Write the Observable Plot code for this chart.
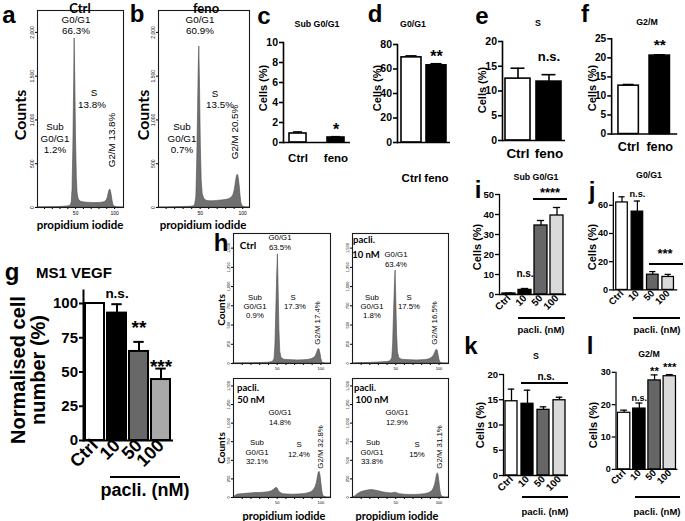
<!DOCTYPE html>
<html><head><meta charset="utf-8">
<script src="https://cdn.jsdelivr.net/npm/d3@7"></script>
<script src="https://cdn.jsdelivr.net/npm/@observablehq/plot@0.6"></script>
<style>
html,body{margin:0;padding:0;background:#fff;}
#fig{position:relative;width:685px;height:521px;overflow:hidden;background:#fff;font-family:"Liberation Sans",Arial,sans-serif;color:#000;}
.t{position:absolute;white-space:nowrap;line-height:1;transform:translate(-50%,-50%);}
.ln{position:absolute;background:#000;}
.p{position:absolute;line-height:0;}
.p svg{overflow:visible;}
</style></head><body><div id="fig"></div>
<script>
// ================= DATA =================
// Fenofibrate experiment (panels c-f)
const fenoGroups = ["Ctrl", "feno"];
const fenoColors = ["#ffffff", "#000000"];
const fenoSubG1 = [0.9, 0.5];     const fenoSubG1Err = [0.15, 0.08]; const fenoSubG1Sig = ["", "*"];
const fenoG1 = [69.5, 63.0];      const fenoG1Err = [1.2, 1.3];       const fenoG1Sig = ["", "**"];
const fenoS = [12.5, 11.9];       const fenoSErr = [2.1, 1.4];        const fenoSSig = ["", "n.s."];
const fenoG2M = [12.7, 20.6];     const fenoG2MErr = [0.3, 0.2];      const fenoG2MSig = ["", "**"];
const fenoSubG1Ticks = [0, 2, 4, 6, 8, 10];
const fenoG1Ticks = [0, 20, 40, 60, 80];
const fenoSTicks = [0, 5, 10, 15, 20];
const fenoG2MTicks = [0, 5, 10, 15, 20, 25];

// Paclitaxel experiment (panels g, i-l)
const pacliGroups = ["Ctrl", "10", "50", "100"];
const pacliColors = ["#ffffff", "#000000", "#666666", "#dadada"];
const cellColors = ["#ffffff", "#000000", "#686868", "#a9a9a9"];
const cellNumber = [100, 93, 65, 44.5];     const cellNumberErr = [0, 6.5, 7, 8];     const cellNumberSig = ["", "n.s.", "**", "***"];
const pacliSubG1 = [0.5, 2.3, 34.5, 39.5];  const pacliSubG1Err = [0.2, 0.7, 2.5, 4]; const pacliSubG1Sig = ["", "n.s.", "", ""];
const pacliG1 = [62, 55.5, 10.8, 9.2];      const pacliG1Err = [4, 7.5, 2.2, 1.8];   const pacliG1Sig = ["", "n.s.", "", ""];
const pacliS = [14.7, 14.2, 13.0, 14.9];    const pacliSErr = [2.4, 2.7, 0.6, 0.6];  const pacliSSig = ["", "", "", ""];
const pacliG2M = [17.5, 18.8, 27.5, 28.8];  const pacliG2MErr = [0.8, 1.7, 1.7, 0.5]; const pacliG2MSig = ["", "n.s.", "**", "***"];
const cellNumberTicks = [0, 25, 50, 75, 100];
const pacliSubG1Ticks = [0, 10, 20, 30, 40, 50];
const pacliG1Ticks = [0, 20, 40, 60];
const pacliSTicks = [0, 5, 10, 15, 20];
const pacliG2MTicks = [0, 10, 20, 30];

// Flow cytometry histograms (propidium iodide vs counts)
const histXTicks = [10, 20, 30, 40, 50, 60, 70, 80, 90, 100];
const histXLabels = [50, 100];
const histYTicksAB = [0, 500, 1000, 1500, 2000];
const histYTicksH = [0, 250, 500, 750, 1000, 1250, 1500];

const histCtrlX = [1, 10, 20, 30, 38, 42, 44, 45, 46, 47, 48, 48.7, 49.5, 50.5, 51.5, 52.5, 54, 57, 61, 65, 70, 75, 80, 84, 87, 89, 90.5, 91.5, 92.5, 93.5, 94.5, 95.5, 96.5, 97.5, 98.5, 100, 103, 111.5];
const histCtrlY = [0, 2, 4, 6, 10, 15, 25, 60, 200, 650, 1350, 1930, 1500, 800, 350, 160, 90, 65, 58, 55, 52, 50, 52, 55, 60, 70, 90, 120, 160, 195, 205, 180, 130, 70, 30, 10, 2, 0];
const histFenoX = [1, 10, 20, 30, 38, 42, 44, 45.5, 46.5, 47.5, 48.3, 49, 49.8, 50.8, 51.8, 53, 55, 58, 62, 66, 70, 75, 80, 84, 87, 89, 90.5, 91.5, 92.5, 93.5, 94.5, 95.5, 96.5, 97.5, 98.5, 100, 103, 108];
const histFenoY = [0, 1, 3, 5, 8, 12, 25, 120, 500, 1100, 1600, 1840, 1400, 700, 300, 150, 95, 75, 70, 72, 75, 80, 85, 95, 110, 140, 190, 250, 320, 365, 375, 330, 240, 130, 50, 12, 2, 0];
const histPCtrlX = [0, 10, 20, 30, 40, 45, 47, 48, 49, 50, 50.8, 51.6, 52.5, 53.5, 55, 58, 62, 68, 74, 80, 85, 89, 92, 94, 95.5, 96.5, 97.5, 98.5, 99.5, 100.5, 101.5, 103, 106, 111];
const histPCtrlY = [0, 2, 4, 6, 10, 20, 60, 250, 700, 1150, 1420, 1000, 450, 150, 70, 50, 45, 42, 40, 42, 45, 55, 70, 90, 130, 165, 190, 180, 130, 60, 20, 4, 0, 0];
const histP10X = [0, 10, 20, 30, 40, 44, 46, 47, 48, 49, 49.8, 50.6, 51.5, 52.5, 54, 57, 62, 68, 74, 80, 85, 89, 92, 94, 95.5, 96.5, 97.5, 98.5, 99.5, 100.5, 101.5, 103, 106, 111];
const histP10Y = [0, 5, 8, 12, 18, 30, 70, 250, 650, 1000, 1210, 850, 400, 150, 70, 50, 45, 42, 40, 42, 45, 55, 75, 100, 135, 165, 180, 165, 110, 50, 15, 4, 0, 0];
const histP50X = [0, 2, 5, 10, 15, 20, 25, 30, 35, 40, 44, 47, 49, 50.5, 52, 54, 57, 62, 68, 74, 80, 85, 89, 92, 94, 95.5, 96.5, 97.5, 98.5, 99.5, 100.5, 101.5, 102.5, 104, 107, 111];
const histP50Y = [0, 20, 40, 45, 50, 55, 60, 60, 65, 70, 85, 110, 130, 120, 85, 60, 45, 40, 38, 40, 45, 55, 70, 100, 140, 200, 270, 330, 345, 300, 200, 90, 30, 8, 0, 0];
const histP100X = [0, 3, 6, 10, 14, 18, 22, 26, 30, 35, 40, 45, 48, 50, 52, 55, 60, 66, 72, 78, 84, 89, 92, 94, 95.5, 96.5, 97.5, 98.5, 99.5, 100.5, 101.5, 102.5, 104, 107, 111];
const histP100Y = [0, 15, 45, 70, 85, 95, 100, 95, 85, 70, 60, 55, 60, 65, 55, 45, 38, 35, 35, 38, 45, 60, 85, 120, 170, 230, 290, 325, 300, 210, 100, 35, 8, 0, 0];

// ================= HELPERS =================
const fig = document.getElementById("fig");
const ARIAL = "'Liberation Sans', Arial, sans-serif";
const CAL = "Lato, 'Open Sans', sans-serif";

function txt(x, y, s, size, o = {}) {
  const d = document.createElement("div");
  d.className = "t";
  d.textContent = s;
  Object.assign(d.style, {left: x + "px", top: y + "px", fontSize: size + "px",
    fontWeight: o.bold ? "700" : "400", fontFamily: o.font || ARIAL});
  if (o.rot) d.style.transform = `translate(-50%,-50%) rotate(${o.rot}deg)`;
  if (o.ls) d.style.letterSpacing = o.ls + "px";
  fig.appendChild(d);
}
function hline(x1, x2, y, w = 1.3) {
  const d = document.createElement("div");
  d.className = "ln";
  Object.assign(d.style, {left: x1 + "px", top: (y - w / 2) + "px", width: (x2 - x1) + "px", height: w + "px"});
  fig.appendChild(d);
}
function place(svg, left, top) {
  const d = document.createElement("div");
  d.className = "p";
  d.style.left = left + "px"; d.style.top = top + "px";
  d.appendChild(svg);
  fig.appendChild(d);
}

function hist(cfg, xs, ys) {
  const {fl, fr, ft, fb, xd, yd, yt, fs} = cfg;
  const mL = 16, mR = 4, mT = 4, mB = 14;
  const data = xs.map((x, i) => ({x, y: ys[i]}));
  const svg = Plot.plot({
    width: fr - fl + mL + mR, height: fb - ft + mT + mB,
    marginLeft: mL, marginRight: mR, marginTop: mT, marginBottom: mB,
    x: {domain: xd, axis: null}, y: {domain: yd, axis: null},
    style: {fontFamily: ARIAL, background: "transparent", overflow: "visible"},
    marks: [
      Plot.areaY(data, {x: "x", y: "y", fill: "#707070", stroke: "#4d4d4d", strokeWidth: 0.6}),
      Plot.axisX({ticks: histXTicks, tickSize: 2, tickPadding: 1.5, fontSize: fs, label: null,
        tickFormat: d => histXLabels.includes(d) ? String(d) : ""}),
      Plot.axisY({ticks: yt, tickSize: 2, tickPadding: 1.5, fontSize: fs, label: null,
        tickRotate: -90, tickFormat: d3.format(",")}),
      Plot.frame({stroke: "#1a1a1a", strokeWidth: 1.1})
    ]
  });
  place(svg, fl - mL, ft - mT);
}

function bars(cfg, cats, vals, errs, fills, sig, ticks) {
  const {x0, y0, yTop, xEnd, yMax, pi, po, tfs, cfs, cpad, rot = 0, sfs, sdy, lw} = cfg;
  const mL = 30, mR = 8, mT = 24, mB = 60;
  const n = cats.length;
  const step = (xEnd - x0) / (n - pi + 2 * po);
  const bw = step * (1 - pi);
  const cap = bw * 0.22;
  const data = cats.map((c, i) => ({c, v: vals[i], e: errs[i], f: fills[i], s: sig[i]}));
  const sigMarks = data.map((d, i) => Plot.text([d], {x: "c", y: r => r.v + r.e, text: "s",
    fontSize: Array.isArray(sfs) ? sfs[i] : sfs, fontWeight: "bold", dy: sdy[i], lineAnchor: "middle"}));
  const svg = Plot.plot({
    width: xEnd - x0 + mL + mR, height: y0 - yTop + mT + mB,
    marginLeft: mL, marginRight: mR, marginTop: mT, marginBottom: mB,
    x: {domain: cats, paddingInner: pi, paddingOuter: po, axis: null},
    y: {domain: [0, yMax], axis: null},
    color: {type: "identity"},
    style: {fontFamily: ARIAL, background: "transparent", overflow: "visible"},
    marks: [
      Plot.ruleX(data, {x: "c", y1: "v", y2: r => r.v + r.e, strokeWidth: lw}),
      Plot.tickY(data.filter(r => r.e > 0), {x: "c", y: r => r.v + r.e, strokeWidth: lw, insetLeft: cap, insetRight: cap}),
      Plot.barY(data, {x: "c", y: "v", fill: "f", stroke: "#000", strokeWidth: lw}),
      ...sigMarks,
      Plot.ruleY([0], {strokeWidth: lw}),
      Plot.frame({anchor: "left", strokeWidth: lw}),
      Plot.axisY({ticks: ticks, tickSize: 4, tickPadding: 1.5, fontSize: tfs, fontWeight: "bold", strokeWidth: lw, label: null}),
      Plot.axisX({tickSize: 0, tickPadding: cpad, fontSize: cfs, fontWeight: "bold", tickRotate: rot, label: null})
    ]
  });
  place(svg, x0 - mL, yTop - mT);
}

// ================= PANELS a, b =================
hist({fl: 37, fr: 123, ft: 10, fb: 207, xd: [1, 111.5], yd: [0, 2250], yt: histYTicksAB, fs: 5}, histCtrlX, histCtrlY);
hist({fl: 158, fr: 249, ft: 10, fb: 207, xd: [1, 108], yd: [0, 2250], yt: histYTicksAB, fs: 5}, histFenoX, histFenoY);

txt(9, 15, "a", 24, {bold: 1}); txt(137, 14, "b", 24, {bold: 1});
txt(80, 7.5, "Ctrl", 13, {bold: 1, font: CAL}); txt(206, 7.5, "feno", 13, {bold: 1, font: CAL});
txt(76, 20, "G0/G1", 9.8); txt(76, 31, "66.3%", 9.8);
txt(94, 93, "S", 9.8); txt(92, 105, "13.8%", 9.8);
txt(55, 127, "Sub", 9.8); txt(55, 138.5, "G0/G1", 9.8); txt(55, 150, "1.2%", 9.8);
txt(112, 140, "G2/M 13.8%", 9.8, {rot: -90});
txt(200, 20, "G0/G1", 9.8); txt(200, 31, "60.9%", 9.8);
txt(215, 94, "S", 9.8); txt(220, 105, "13.5%", 9.8);
txt(182, 127, "Sub", 9.8); txt(182, 138.5, "G0/G1", 9.8); txt(182, 150, "0.7%", 9.8);
txt(235, 132, "G2/M 20.5%", 9.8, {rot: -90});
txt(20, 115, "Counts", 16, {bold: 1, font: CAL, rot: -90}); txt(143, 115, "Counts", 16, {bold: 1, font: CAL, rot: -90});
txt(80, 225, "propidium iodide", 11.5, {bold: 1, font: CAL}); txt(203, 225, "propidium iodide", 11.5, {bold: 1, font: CAL});

// ================= PANELS c-f =================
bars({x0: 283, y0: 142, yTop: 42, xEnd: 350, yMax: 10, pi: 0.54, po: 0.13, tfs: 10.5, cfs: 11.5, cpad: 11, sfs: 16, sdy: [0, -7], lw: 1.6},
  fenoGroups, fenoSubG1, fenoSubG1Err, fenoColors, fenoSubG1Sig, fenoSubG1Ticks);
bars({x0: 397, y0: 142, yTop: 44, xEnd: 450, yMax: 80, pi: 0.2, po: 0.16, tfs: 10.5, cfs: 11.5, cpad: 31, sfs: 16, sdy: [0, -6.5], lw: 1.6},
  fenoGroups, fenoG1, fenoG1Err, fenoColors, fenoG1Sig, fenoG1Ticks);
bars({x0: 502, y0: 140, yTop: 41, xEnd: 565, yMax: 20, pi: 0.19, po: 0.11, tfs: 10.5, cfs: 13.5, cpad: 8.3, sfs: 13, sdy: [0, -18], lw: 1.6},
  fenoGroups, fenoS, fenoSErr, fenoColors, fenoSSig, fenoSTicks);
bars({x0: 612, y0: 137, yTop: 39, xEnd: 680, yMax: 25, pi: 0.33, po: 0.2, tfs: 10.5, cfs: 13, cpad: 8.5, sfs: 16, sdy: [0, -10], lw: 1.6},
  fenoGroups, fenoG2M, fenoG2MErr, fenoColors, fenoG2MSig, fenoG2MTicks);

txt(264, 16, "c", 24, {bold: 1}); txt(375, 14, "d", 24, {bold: 1}); txt(482, 16, "e", 24, {bold: 1}); txt(585, 14, "f", 24, {bold: 1});
txt(317, 24, "Sub G0/G1", 8.8, {bold: 1}); txt(413, 24, "G0/G1", 8.8, {bold: 1});
txt(538, 23, "S", 8.8, {bold: 1}); txt(647, 22, "G2/M", 8.8, {bold: 1});
txt(263, 88, "Cells (%)", 11, {bold: 1, rot: -90}); txt(377, 88, "Cells (%)", 11, {bold: 1, rot: -90});
txt(482, 90, "Cells (%)", 11, {bold: 1, rot: -90}); txt(592, 88, "Cells (%)", 11, {bold: 1, rot: -90});

// ================= PANEL g =================
bars({x0: 83, y0: 440, yTop: 290, xEnd: 173, yMax: 109.5, pi: 0.13, po: 0.065, tfs: 15, cfs: 18, cpad: 2, rot: -45,
  sfs: [13.5, 13.5, 19, 19], sdy: [0, -10.7, -14, -1.6], lw: 2},
  pacliGroups, cellNumber, cellNumberErr, cellColors, cellNumberSig, cellNumberTicks);
txt(12, 272, "g", 24, {bold: 1}); txt(74, 272, "MS1 VEGF", 15, {bold: 1});
txt(18, 370, "Normalised cell", 20, {bold: 1, rot: -90}); txt(38, 370, "number (%)", 20, {bold: 1, rot: -90});
hline(110, 180, 477, 2); txt(145, 490, "pacli. (nM)", 18, {bold: 1});

// ================= PANEL h =================
hist({fl: 233, fr: 330, ft: 233, fb: 363, xd: [0, 111], yd: [0, 1690], yt: histYTicksH, fs: 4}, histPCtrlX, histPCtrlY);
hist({fl: 352, fr: 448, ft: 233, fb: 363, xd: [0, 111], yd: [0, 1690], yt: histYTicksH, fs: 4}, histP10X, histP10Y);
hist({fl: 233, fr: 330, ft: 378, fb: 497, xd: [0, 111], yd: [0, 1600], yt: histYTicksH, fs: 4}, histP50X, histP50Y);
hist({fl: 352, fr: 448, ft: 378, fb: 497, xd: [0, 111], yd: [0, 1600], yt: histYTicksH, fs: 4}, histP100X, histP100Y);
txt(221, 243, "h", 24, {bold: 1});
const HS = 7.8;
txt(248, 245, "Ctrl", 10, {bold: 1, font: CAL});
txt(280, 238, "G0/G1", HS); txt(280, 248, "63.5%", HS);
txt(255, 298, "Sub", HS); txt(255, 307, "G0/G1", HS); txt(255, 316, "0.9%", HS);
txt(293, 298, "S", HS); txt(295, 307, "17.3%", HS);
txt(318, 323, "G2/M 17.4%", HS, {rot: -90});
txt(364, 240, "pacli.", 9.5, {bold: 1, font: CAL}); txt(366, 255, "10 nM", 9.5, {bold: 1, font: CAL});
txt(396, 255, "G0/G1", HS); txt(396, 265, "63.4%", HS);
txt(372, 298, "Sub", HS); txt(372, 307, "G0/G1", HS); txt(372, 316, "1.8%", HS);
txt(409, 298, "S", HS); txt(409, 307, "17.5%", HS);
txt(435, 323, "G2/M 16.5%", HS, {rot: -90});
txt(248, 388, "pacli.", 9.5, {bold: 1, font: CAL}); txt(251, 400, "50 nM", 9.5, {bold: 1, font: CAL});
txt(280, 413, "G0/G1", HS); txt(280, 423, "14.8%", HS);
txt(257, 443, "Sub", HS); txt(257, 453, "G0/G1", HS); txt(257, 462, "32.1%", HS);
txt(299, 445, "S", HS); txt(299, 455, "12.4%", HS);
txt(321, 447, "G2/M 32.8%", HS, {rot: -90});
txt(365, 388, "pacli.", 9.5, {bold: 1, font: CAL}); txt(372, 400, "100 nM", 9.5, {bold: 1, font: CAL});
txt(397, 413, "G0/G1", HS); txt(397, 423, "12.9%", HS);
txt(373, 443, "Sub", HS); txt(372, 453, "G0/G1", HS); txt(372, 462, "33.8%", HS);
txt(417, 445, "S", HS); txt(417, 455, "15%", HS);
txt(440, 447, "G2/M 31.1%", HS, {rot: -90});
txt(221, 310, "Counts", 10, {bold: 1, font: CAL, rot: -90}); txt(221, 448, "Counts", 10, {bold: 1, font: CAL, rot: -90});
txt(284, 515, "propidium iodide", 11, {bold: 1, font: CAL}); txt(397, 515, "propidium iodide", 11, {bold: 1, font: CAL});

// ================= PANELS i-l =================
bars({x0: 499, y0: 294, yTop: 194, xEnd: 566, yMax: 50, pi: 0.2, po: 0.155, tfs: 9.5, cfs: 10, cpad: 2, rot: -45, sfs: 10, sdy: [0, -15, 0, 0], lw: 1.3},
  pacliGroups, pacliSubG1, pacliSubG1Err, pacliColors, pacliSubG1Sig, pacliSubG1Ticks);
bars({x0: 614, y0: 294, yTop: 192.8, xEnd: 681, yMax: 69, pi: 0.22, po: 0.17, tfs: 9.5, cfs: 10, cpad: 2, rot: -45, sfs: 9.5, sdy: [0, -7.6, 0, 0], lw: 1.3},
  pacliGroups, pacliG1, pacliG1Err, pacliColors, pacliG1Sig, pacliG1Ticks);
bars({x0: 503, y0: 475, yTop: 374, xEnd: 568, yMax: 20, pi: 0.22, po: 0.14, tfs: 9.5, cfs: 10, cpad: 2, rot: -45, sfs: 10, sdy: [0, 0, 0, 0], lw: 1.3},
  pacliGroups, pacliS, pacliSErr, pacliColors, pacliSSig, pacliSTicks);
bars({x0: 617, y0: 475, yTop: 373, xEnd: 682, yMax: 30, pi: 0.21, po: 0.075, tfs: 9.5, cfs: 10, cpad: 2, rot: -45, sfs: [9.5, 9.5, 12, 12], sdy: [0, -5.3, -4, -7.6], lw: 1.3},
  pacliGroups, pacliG2M, pacliG2MErr, pacliColors, pacliG2MSig, pacliG2MTicks);

txt(478, 190, "i", 24, {bold: 1}); txt(592, 191, "j", 24, {bold: 1}); txt(471, 346, "k", 24, {bold: 1}); txt(590, 346, "l", 24, {bold: 1});
txt(536, 177, "Sub G0/G1", 8.8, {bold: 1}); txt(649, 175, "G0/G1", 8.8, {bold: 1});
txt(536, 356, "S", 8.8, {bold: 1}); txt(649, 354, "G2/M", 8.8, {bold: 1});
txt(477, 247, "Cells (%)", 11, {bold: 1, rot: -90}); txt(592, 247, "Cells (%)", 11, {bold: 1, rot: -90});
txt(480, 425, "Cells (%)", 11, {bold: 1, rot: -90}); txt(593, 425, "Cells (%)", 11, {bold: 1, rot: -90});
txt(550, 192, "****", 13, {bold: 1}); hline(533, 567, 199);
txt(665, 253, "***", 13, {bold: 1}); hline(649, 683, 264);
txt(546, 377, "n.s.", 10, {bold: 1}); hline(521, 568, 383);
hline(518, 565, 318); txt(541, 330, "pacli. (nM)", 9.5, {bold: 1});
hline(633, 680, 318); txt(657, 330, "pacli. (nM)", 9.5, {bold: 1});
hline(522, 568, 497); txt(545, 512, "pacli. (nM)", 9.5, {bold: 1});
hline(635, 680, 497); txt(657, 512, "pacli. (nM)", 9.5, {bold: 1});
</script></body></html>
